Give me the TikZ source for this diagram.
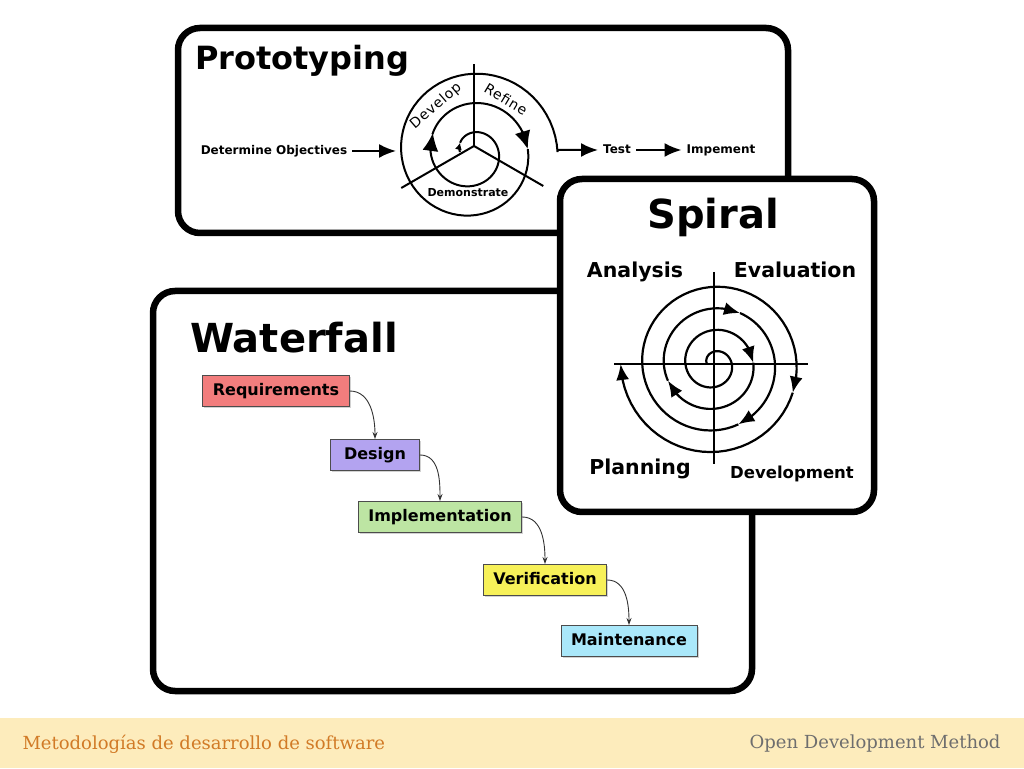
\documentclass[tikz,border=0pt]{standalone}
\usepackage{fontspec}
\setmainfont{DejaVu Sans}
\newfontfamily\footfont{DejaVu Serif}
\usetikzlibrary{arrows.meta,shadows}

\definecolor{footbg}{HTML}{FDECBC}
\definecolor{footorange}{HTML}{D17A26}
\definecolor{footgrey}{HTML}{6E6E6E}
\definecolor{reqred}{HTML}{F27D7D}
\definecolor{designviolet}{HTML}{B3A3F0}
\definecolor{implgreen}{HTML}{BDE5A3}
\definecolor{verifyellow}{HTML}{F7F159}
\definecolor{maintblue}{HTML}{AAE8FA}

\tikzset{
  panel/.style={draw=black, line width=6.5pt, rounded corners=22pt, fill=white},
  heading/.style={font=\bfseries\fontsize{#1}{#1}\selectfont, inner sep=0pt},
  plabel/.style={font=\bfseries\fontsize{12}{14}\selectfont, inner sep=5pt, text height=9pt, text depth=2pt},
  arclabel/.style={font=\addfontfeature{LetterSpace=6}\fontsize{14}{16}\selectfont, inner sep=0pt},
  slabel/.style={font=\bfseries\fontsize{#1}{#1}\selectfont, inner sep=0pt, anchor=base},
  sline/.style={line width=2pt},
  bigarrow/.style={line width=2pt, -{Latex[length=17pt,width=14pt]}},
  protoarrow/.style={line width=2pt, -{Latex[length=18pt,width=16pt]}},
  smallarrow/.style={line width=2pt, -{Latex[length=7pt,width=7pt]}},
  spirarrow/.style={line width=2.2pt, -{Latex[length=16pt,width=13pt]}},
  wbox/.style={draw=black!70, line width=1pt, font=\bfseries\fontsize{16}{18}\selectfont, minimum height=31pt, inner xsep=10pt, text height=12pt, text depth=3pt, drop shadow={opacity=0.35, shadow xshift=1.5pt, shadow yshift=-1.5pt}},
  wlink/.style={draw=black!80, line width=0.9pt, -{Stealth[length=7pt,width=5pt]}}
}

\begin{document}
\begin{tikzpicture}[x=1pt, y=1pt]
  \fill[white] (0,0) rectangle (1024,768);
  \useasboundingbox (0,0) rectangle (1024,768);

  % panels
  \draw[panel] (178,740) rectangle (788,535);
  \draw[panel] (153,477) rectangle (752,77);

  % prototyping
  \node[heading=32, anchor=base west] (prototitle) at (195,698) {Prototyping};
  \node[plabel] (objectives) at (274,617) {Determine Objectives};
  \node[plabel] (test) at (617,618) {Test};
  \node[plabel] (impement) at (721,618) {Impement};
  \coordinate (pmid) at (474,622);
  \coordinate (pc) at (472,616);
  \coordinate (protoin) at (396,617);

  \draw[sline] (pmid) -- ++(90:82);
  \draw[sline] (pmid) -- ++(210:84);
  \draw[sline] (pmid) -- ++(-30:80);
  \draw[smallarrow, shift={(pc)}] plot[domain=0:25, samples=6, variable=\t] ({180-\t}:{12+0.0817*\t}) -- ({180-38}:{12+0.0817*38});
  \draw[sline, shift={(pc)}] plot[domain=38:360, samples=60, variable=\t] ({180-\t}:{12+0.0817*\t});
  \draw[protoarrow, shift={(pc)}] plot[domain=360:362, samples=2, variable=\t] ({180-\t}:{12+0.0817*\t}) -- ({180-386}:{12+0.0817*386});
  \draw[sline, shift={(pc)}] plot[domain=384:519, samples=30, variable=\t] ({180-\t}:{12+0.0817*\t});
  \draw[protoarrow, shift={(pc)}] plot[domain=517:519, samples=2, variable=\t] ({180-\t}:{12+0.0817*\t}) -- ({180-537}:{12+0.0817*537});
  \draw[bigarrow, shift={(pc)}] plot[domain=537:900, samples=70, variable=\t] ({180-\t}:{12+0.0817*\t}) |- (test.west);

  \node[arclabel, rotate=41] (develop) at (436,662) {Develop};
  \node[arclabel, rotate=-31] (refine) at (506,669) {Refine};
  \node[font=\bfseries\fontsize{11}{13}\selectfont, inner sep=1pt] (demonstrate) at (468,575) {Demonstrate};

  \draw[bigarrow] (objectives) -- (protoin);
  \draw[bigarrow] (test) -- (impement);

  % waterfall
  \node[heading=40, anchor=base west] (watertitle) at (190,415) {Waterfall};
  \node[wbox, fill=reqred] (requirements) at (276,377) {Requirements};
  \node[wbox, fill=designviolet, minimum width=89pt] (design) at (375,313) {Design};
  \node[wbox, fill=implgreen] (implementation) at (440,251) {Implementation};
  \node[wbox, fill=verifyellow] (verification) at (545,188) {Verification};
  \node[wbox, fill=maintblue] (maintenance) at (629,127) {Maintenance};

  \draw[wlink] (requirements.east) to[out=0, in=90] (design.north);
  \draw[wlink] (design.east) to[out=0, in=90] (implementation.north);
  \draw[wlink] (implementation.east) to[out=0, in=90] (verification.north);
  \draw[wlink] (verification.east) to[out=0, in=90] (maintenance.north);

  % spiral
  \draw[panel] (560,589) rectangle (874,256);
  \node[heading=40, anchor=base] (spiraltitle) at (713,539) {Spiral};
  \node[slabel=20.5] (analysis) at (635,490) {Analysis};
  \node[slabel=20.5] (evaluation) at (795,490) {Evaluation};
  \node[slabel=20.5] (planning) at (640,293) {Planning};
  \node[slabel=16.5] (development) at (792,289) {Development};
  \coordinate (sc) at (714,404);

  \draw[sline] (sc) ++(0,92) -- ++(0,-192);
  \draw[sline] (sc) ++(-100,0) -- ++(194,0);
  \draw[spirarrow, shift={(sc)}] plot[domain=0:516, samples=80, variable=\t] ({180-\t}:{7+0.06*\t}) -- ({180-538}:{7+0.06*538});
  \draw[spirarrow, shift={(sc)}] plot[domain=538:682, samples=30, variable=\t] ({180-\t}:{7+0.06*\t}) -- ({180-700}:{7+0.06*700});
  \draw[spirarrow, shift={(sc)}] plot[domain=700:821, samples=30, variable=\t] ({180-\t}:{7+0.06*\t}) -- ({180-837}:{7+0.06*837});
  \draw[spirarrow, shift={(sc)}] plot[domain=837:954, samples=30, variable=\t] ({180-\t}:{7+0.06*\t}) -- ({180-968}:{7+0.06*968});
  \draw[spirarrow, shift={(sc)}] plot[domain=968:1269, samples=60, variable=\t] ({180-\t}:{7+0.06*\t}) -- ({180-1280}:{7+0.06*1280});
  \draw[spirarrow, shift={(sc)}] plot[domain=1280:1430, samples=30, variable=\t] ({180-\t}:{7+0.06*\t}) -- ({180-1440}:{7+0.06*1440});

  % footer
  \fill[footbg] (0,0) rectangle (1024,50);
  \node[anchor=west, text=footorange, font=\footfont\fontsize{18}{20}\selectfont] (foottitle) at (19,24) {Metodologías de desarrollo de software};
  \node[anchor=east, text=footgrey, font=\footfont\fontsize{18}{20}\selectfont] (footmethod) at (1004,24) {Open Development Method};
\end{tikzpicture}
\end{document}
